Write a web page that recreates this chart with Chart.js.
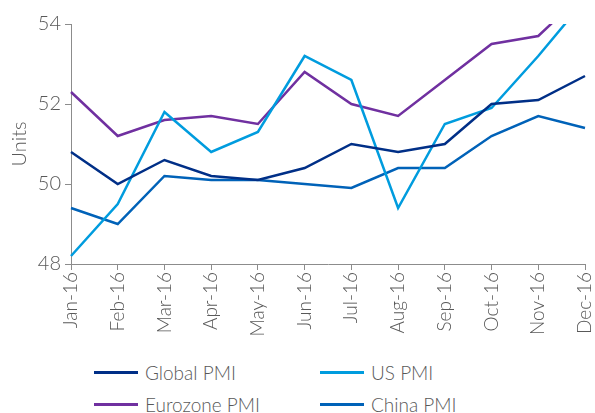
<!DOCTYPE html>
<html>
<head>
<meta charset="utf-8">
<script src="https://cdn.jsdelivr.net/npm/chart.js@4"></script>
<style>
  html, body { margin: 0; padding: 0; background: #fff; }
  #wrap { position: relative; width: 595px; height: 413px; font-family: Lato, "Open Sans", sans-serif; font-weight: 300; }
  #chart-box { position: absolute; left: 0; top: 0; width: 595px; height: 352px; }
  #legend { position: absolute; left: 94px; top: 360px; width: 480px; display: grid; grid-template-columns: 226px 226px; row-gap: 8px; }
  .item { display: flex; align-items: center; color: #595959; font-size: 19px; height: 24px; }
  .swatch { width: 44px; height: 3px; margin-right: 7px; }
</style>
</head>
<body>
<div id="wrap">
  <div id="chart-box"><canvas id="c" width="595" height="352"></canvas></div>
  <div id="legend"></div>
</div>
<script>
const months = ["Jan-16", "Feb-16", "Mar-16", "Apr-16", "May-16", "Jun-16",
                "Jul-16", "Aug-16", "Sep-16", "Oct-16", "Nov-16", "Dec-16"]
const globalPmi   = [50.8, 50.0, 50.6, 50.2, 50.1, 50.4, 51.0, 50.8, 51.0, 52.0, 52.1, 52.7]
const usPmi       = [48.2, 49.5, 51.8, 50.8, 51.3, 53.2, 52.6, 49.4, 51.5, 51.9, 53.2, 54.6]
const eurozonePmi = [52.3, 51.2, 51.6, 51.7, 51.5, 52.8, 52.0, 51.7, 52.6, 53.5, 53.7, 54.8]
const chinaPmi    = [49.4, 49.0, 50.2, 50.1, 50.1, 50.0, 49.9, 50.4, 50.4, 51.2, 51.7, 51.4]
const yTicks = [48, 50, 52, 54]

const TEXT = "#595959"
const AXIS = "#8c8c8c"

const series = [
  { label: "Global PMI", data: globalPmi, color: "#002F87" },
  { label: "US PMI", data: usPmi, color: "#009CDE" },
  { label: "Eurozone PMI", data: eurozonePmi, color: "#7030A0" },
  { label: "China PMI", data: chinaPmi, color: "#0062B8" }
]

const chart = new Chart(document.getElementById("c").getContext("2d"), {
  type: "line",
  data: {
    labels: months,
    datasets: series.map(s => ({
      label: s.label,
      data: s.data,
      borderColor: s.color,
      backgroundColor: s.color,
      borderWidth: 2.5,
      pointRadius: 0,
      tension: 0
    }))
  },
  options: {
    responsive: false,
    animation: false,
    layout: { padding: { top: 24, right: 10, left: 0, bottom: 0 } },
    plugins: { legend: { display: false }, tooltip: { enabled: false } },
    scales: {
      x: {
        offset: false,
        afterFit: axis => { axis.height = 88; axis.paddingRight = 0; axis.paddingLeft = 0 },
        grid: { display: true, drawOnChartArea: false, drawTicks: true, tickLength: 6, color: AXIS },
        border: { display: true, color: AXIS, width: 1 },
        ticks: {
          color: TEXT, font: { family: "Lato", size: 19, weight: 300 },
          maxRotation: 90, minRotation: 90, autoSkip: false, padding: 2
        }
      },
      y: {
        min: 48, max: 54,
        afterBuildTicks: axis => { axis.ticks = yTicks.map(v => ({ value: v })) },
        afterFit: axis => { axis.width = 71 },
        grid: { display: true, drawOnChartArea: false, drawTicks: true, tickLength: 6, color: AXIS },
        border: { display: true, color: AXIS, width: 1 },
        ticks: { color: TEXT, font: { family: "Lato", size: 20, weight: 300 }, padding: 4 },
        title: { display: true, text: "Units", color: TEXT, font: { family: "Lato", size: 20, weight: 300 }, padding: { top: 8, bottom: 0 } }
      }
    }
  }
})

const legend = document.getElementById("legend")
chart.data.datasets.forEach(ds => {
  const item = document.createElement("div")
  item.className = "item"
  const sw = document.createElement("span")
  sw.className = "swatch"
  sw.style.background = ds.borderColor
  const txt = document.createElement("span")
  txt.textContent = ds.label
  item.appendChild(sw)
  item.appendChild(txt)
  legend.appendChild(item)
})
</script>
</body>
</html>
